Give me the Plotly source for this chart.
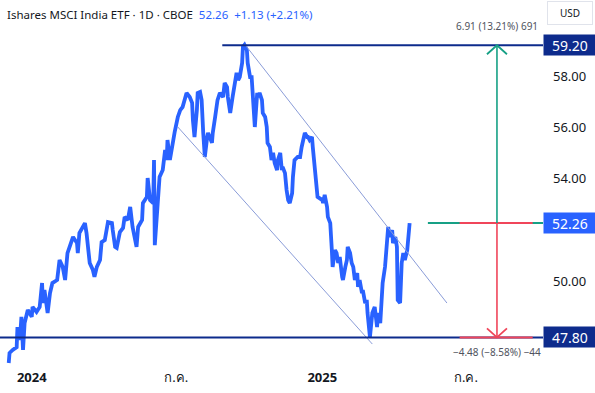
import pandas as pd
import plotly.graph_objects as go

BASE = pd.Timestamp("2024-01-01")

# ---- daily close path (days since 2024-01-01, price in USD) ----
day_offsets = [
    -29, -28, -24, -19, -18, -15, -13, -11, -9, -5, 0, 1, 6, 10, 13, 14, 16, 20, 23, 26,
    32, 33, 35, 39, 42, 45, 50, 52, 57, 58, 60, 64, 67, 69, 73, 77, 79, 82, 86,
    88, 92, 96, 101, 102, 105, 107, 111, 115, 117, 121, 124, 127, 132, 134, 139, 140,
    145, 146, 149, 153, 154, 155, 158, 161, 165, 168, 170, 171, 174, 178, 180, 184,
    187, 190, 195, 199, 202, 203, 205, 208, 209, 212, 214, 216, 218, 221, 222, 227,
    228, 231, 234, 237,
    241, 243, 246, 247, 250, 253, 256, 258, 260, 262, 265, 266, 268, 271, 272, 275,
    277, 279, 281, 284, 285, 287, 290, 291, 294, 296, 297, 300, 302, 304, 306, 309,
    310, 313, 315, 316, 319, 321, 323, 325, 328, 329, 331, 335, 338, 340, 342, 344,
    347, 348, 350, 353, 354, 357, 359, 360, 366, 367, 369, 372, 373, 376,
    378, 379, 382, 384, 386, 388, 391, 392, 395, 397, 398, 401, 403, 405, 407, 410,
    411, 413, 416, 417, 420, 422, 423, 426, 429, 430, 432, 435, 436, 439, 441, 442,
    445, 447, 449, 451, 454, 455, 458, 460, 461, 464, 466, 468, 470, 473, 474, 476,
]
prices = [
    46.80, 47.19, 47.31, 47.42, 48.20, 47.70, 48.60, 47.31, 48.36, 48.87, 48.60, 48.99,
    48.79, 48.99, 49.92, 49.14, 49.65, 48.75, 49.53, 49.92,
    50.04, 50.43, 50.82, 50.55, 50.04, 51.09, 51.60, 51.72, 51.48, 51.09, 51.87, 52.11,
    52.26, 51.87, 50.70, 50.43, 50.16, 50.55, 50.82,
    51.52, 51.60, 52.30, 52.26, 51.99, 51.33, 51.29, 51.91, 52.07, 52.50, 52.38, 52.89,
    52.11, 51.33, 52.11, 52.38, 53.04, 53.28, 54.02, 53.16, 53.04, 54.72, 51.40, 53.04,
    54.06, 54.33, 55.11, 54.72, 55.50, 54.72, 55.50, 55.81, 56.40, 56.67, 56.79, 57.34,
    57.18, 56.95, 56.28, 55.62, 56.67, 57.34, 57.38, 57.06, 55.78, 54.84, 55.62, 55.78,
    55.39, 55.78, 56.40, 57.06, 57.34,
    57.18, 57.73, 57.57, 57.18, 56.56, 57.18, 57.73, 58.12, 57.84, 57.96, 58.51, 59.13,
    59.21, 59.01, 58.51, 57.96, 57.96, 57.18, 56.01, 57.34, 57.18, 57.34, 57.06, 56.56,
    56.40, 56.01, 55.39, 55.23, 54.72, 55.00, 54.60, 54.33, 54.72, 55.00, 54.33, 54.45,
    54.21, 53.55, 53.16, 53.04, 53.43, 54.06, 54.72, 54.84, 54.84, 55.23, 55.62, 55.78,
    55.62, 55.62, 55.50, 55.62, 55.23, 54.33, 53.43, 53.28, 53.16, 53.04, 53.36, 52.89,
    52.50, 52.26,
    51.21, 50.55, 51.21, 51.09, 50.70, 50.94, 50.16, 50.04, 50.55, 50.82, 51.33, 51.09,
    50.70, 50.55, 50.04, 50.31, 49.77, 50.04, 49.53, 49.65, 49.14, 49.26, 48.75, 47.81,
    48.75, 48.87, 48.99, 48.20, 48.75, 48.36, 49.26, 49.92, 50.55, 51.60, 52.11, 51.72,
    51.99, 51.48, 51.72, 51.33, 49.26, 49.14, 50.70, 51.09, 50.82, 51.21, 51.72, 52.26,
]

# ---- drawings ----
upper_channel_days = [268, 523]
upper_channel_prices = [59.25, 49.14]
lower_channel_days = [184, 429]
lower_channel_prices = [56.01, 47.54]

resistance_level = 59.20
support_level = 47.80
last_price = 52.26
resistance_start_day = 240

measure_day = 586
measure_line_days = [499, 644]
measure_red_days = [539, 631]
measure_up_text = "6.91 (13.21%) 691"
measure_down_text = "−4.48 (−8.58%) −44"

x_range_days = [-40, 644]
y_range = [46.605, 60.966]
y_tickvals = [50, 54, 56, 58]
x_tick_dates = ["2024-01-01", "2024-07-01", "2025-01-01", "2025-07-01"]
x_tick_text = ["<b>2024</b>", "ก.ค.", "<b>2025</b>", "ก.ค."]

title_text = "Ishares MSCI India ETF · 1D · CBOE"
quote_text = "52.26  +1.13 (+2.21%)"


def d(days):
    return BASE + pd.Timedelta(days=days)


def ds(days):
    return d(days).strftime("%Y-%m-%d")


BLUE = "#2962ff"
NAVY = "#0d2b8c"
GREEN = "#16a085"
RED = "#f0455a"
CHANNEL = "#8a9cd8"
FONT = "Noto Sans, DejaVu Sans, sans-serif"

dates = BASE + pd.to_timedelta(day_offsets, unit="D")

fig = go.Figure()
fig.add_trace(go.Scatter(
    x=dates, y=prices, mode="lines",
    line=dict(color=BLUE, width=3.8), hoverinfo="skip", showlegend=False,
))
fig.add_trace(go.Scatter(
    x=[d(v) for v in upper_channel_days], y=upper_channel_prices, mode="lines",
    line=dict(color=CHANNEL, width=1), hoverinfo="skip", showlegend=False,
))
fig.add_trace(go.Scatter(
    x=[d(v) for v in lower_channel_days], y=lower_channel_prices, mode="lines",
    line=dict(color=CHANNEL, width=1), hoverinfo="skip", showlegend=False,
))

shapes = []
# measure tool horizontal at last price
shapes.append(dict(type="line", xref="x", yref="y", x0=ds(measure_line_days[0]), x1=ds(measure_line_days[1]),
                   y0=last_price, y1=last_price, line=dict(color=GREEN, width=2)))
shapes.append(dict(type="line", xref="x", yref="y", x0=ds(measure_red_days[0]), x1=ds(measure_red_days[1]),
                   y0=last_price, y1=last_price, line=dict(color=RED, width=2)))
# support / resistance
shapes.append(dict(type="line", xref="x", yref="y", x0=ds(resistance_start_day), x1=ds(x_range_days[1]),
                   y0=resistance_level, y1=resistance_level, line=dict(color=NAVY, width=2)))
shapes.append(dict(type="line", xref="x", yref="y", x0=ds(x_range_days[0]), x1=ds(x_range_days[1]),
                   y0=support_level, y1=support_level, line=dict(color=NAVY, width=2)))
shapes.append(dict(type="line", xref="x", yref="y", x0=ds(measure_red_days[0]), x1=ds(measure_red_days[1]),
                   y0=support_level, y1=support_level, line=dict(color=RED, width=2)))
# measure verticals
shapes.append(dict(type="line", xref="x", yref="y", x0=ds(measure_day), x1=ds(measure_day),
                   y0=last_price, y1=resistance_level, line=dict(color=GREEN, width=1.6)))
shapes.append(dict(type="line", xref="x", yref="y", x0=ds(measure_day), x1=ds(measure_day),
                   y0=last_price, y1=support_level, line=dict(color=RED, width=1.6)))
# arrow heads (pixel-sized chevrons)
shapes.append(dict(type="path", xref="x", yref="y", xsizemode="pixel", ysizemode="pixel",
                   xanchor=ds(measure_day), yanchor=resistance_level,
                   path="M -10,-9 L 0,0 L 10,-9", line=dict(color=GREEN, width=1.8)))
shapes.append(dict(type="path", xref="x", yref="y", xsizemode="pixel", ysizemode="pixel",
                   xanchor=ds(measure_day), yanchor=support_level,
                   path="M -10,9 L 0,0 L 10,9", line=dict(color=RED, width=1.8)))

annotations = [
    dict(xref="paper", yref="paper", x=0.009, y=0.96, xanchor="left", yanchor="middle",
         text=f"{title_text}  <span style='color:{BLUE}'>{quote_text}</span>",
         showarrow=False, font=dict(family=FONT, size=11.5, color="#131722")),
    dict(xref="x", yref="y", x=ds(measure_day), y=resistance_level, yshift=19,
         text=measure_up_text, showarrow=False, font=dict(family=FONT, size=10, color="#50535e")),
    dict(xref="x", yref="y", x=ds(measure_day), y=support_level, yshift=-15,
         text=measure_down_text, showarrow=False, font=dict(family=FONT, size=10, color="#50535e")),
    dict(xref="paper", yref="paper", x=1.007, y=1.0, xanchor="left", yanchor="top",
         text="USD", showarrow=False, font=dict(family=FONT, size=10, color="#131722"),
         bgcolor="white", bordercolor="#e0e3eb", borderwidth=1, borderpad=4, width=36, yshift=-1),
]
for level, color in [(resistance_level, NAVY), (last_price, BLUE), (support_level, NAVY)]:
    annotations.append(dict(
        xref="paper", yref="y", x=1.0, y=level, xanchor="left", yanchor="middle",
        text=f"{level:.2f}", showarrow=False, width=50, height=18, borderpad=1,
        bgcolor=color, font=dict(family=FONT, size=14, color="white"), align="center",
    ))

fig.update_layout(
    width=595, height=393,
    margin=dict(l=0, r=52, t=0, b=25),
    paper_bgcolor="white", plot_bgcolor="white",
    shapes=shapes, annotations=annotations,
    showlegend=False,
    xaxis=dict(
        type="date", range=[d(x_range_days[0]), d(x_range_days[1])],
        tickvals=x_tick_dates, ticktext=x_tick_text,
        showgrid=False, zeroline=False, showline=False, ticks="",
        tickfont=dict(family=FONT, size=13, color="#131722"),
    ),
    yaxis=dict(
        side="right", range=y_range, tickvals=y_tickvals,
        tickformat=".2f", showgrid=False, zeroline=False, showline=False, ticks="",
        ticklabelstandoff=9,
        tickfont=dict(family=FONT, size=13, color="#131722"),
    ),
)

fig.write_html(
    "out.html",
    config={"displayModeBar": False, "staticPlot": True},
    post_script="document.body.style.margin='0';document.body.style.overflow='hidden';",
)
